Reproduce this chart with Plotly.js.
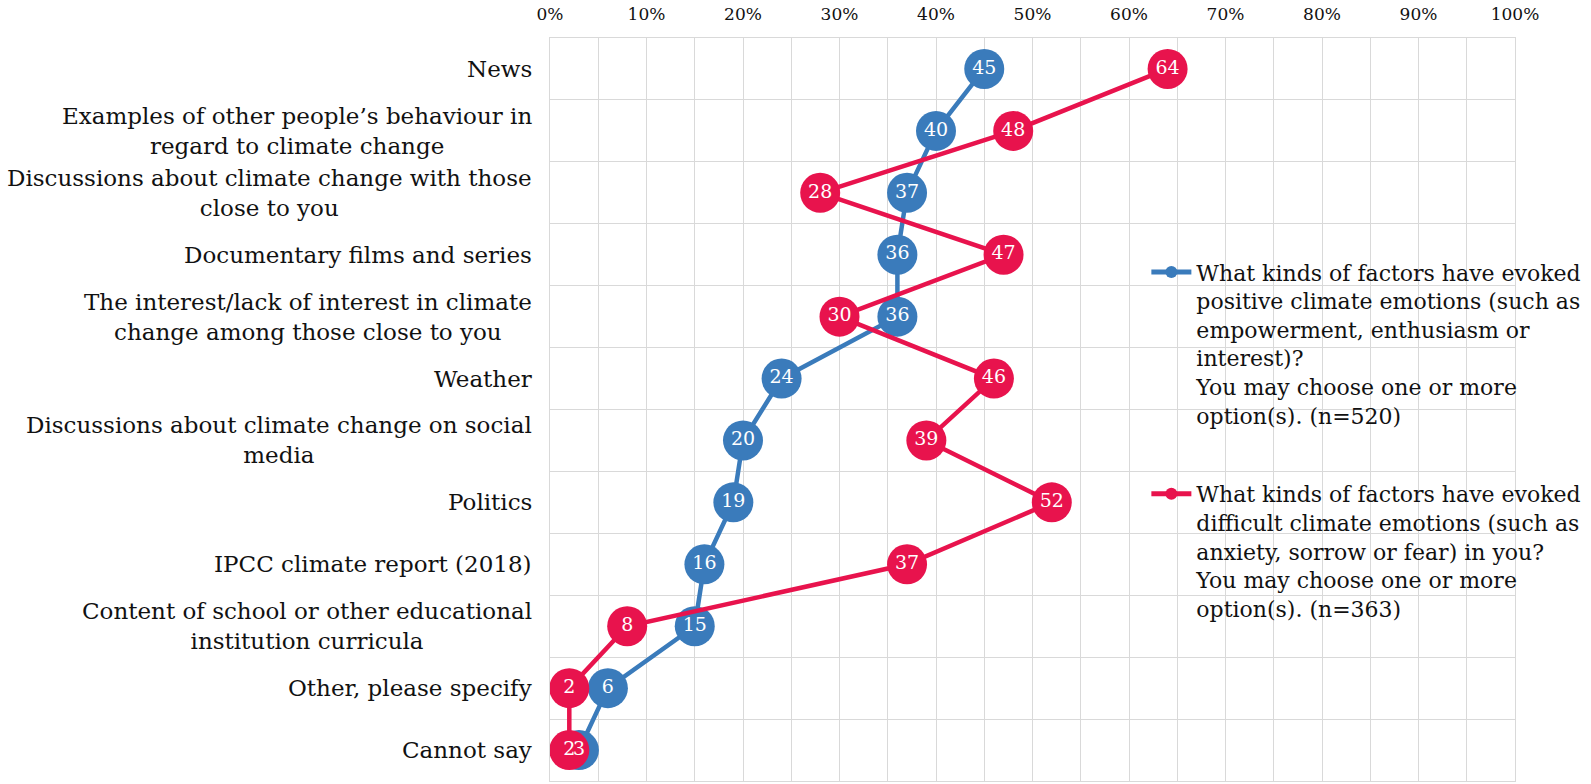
<!DOCTYPE html>
<html>
<head>
<meta charset="utf-8">
<script src="https://cdn.plot.ly/plotly-3.0.1.min.js"></script>
<style>
  html, body { margin: 0; padding: 0; background: #ffffff; }
  #chart { width: 1591px; height: 784px; }
</style>
</head>
<body>
<div id="chart"></div>
<script>
// Sources of climate emotions, share of respondents (%)
const categories = [
  "News",
  "Examples of other people’s behaviour in<br>regard to climate change",
  "Discussions about climate change with those<br>close to you",
  "Documentary films and series",
  "The interest/lack of interest in climate<br>change among those close to you",
  "Weather",
  "Discussions about climate change on social<br>media",
  "Politics",
  "IPCC climate report (2018)",
  "Content of school or other educational<br>institution curricula",
  "Other, please specify",
  "Cannot say"
];

const positiveValues = [45, 40, 37, 36, 36, 24, 20, 19, 16, 15, 6, 3];
const difficultValues = [64, 48, 28, 47, 30, 46, 39, 52, 37, 8, 2, 2];

const positiveName = "What kinds of factors have evoked<br>positive climate emotions (such as<br>empowerment, enthusiasm or<br>interest)?<br>You may choose one or more<br>option(s). (n=520)";
const difficultName = "What kinds of factors have evoked<br>difficult climate emotions (such as<br>anxiety, sorrow or fear) in you?<br>You may choose one or more<br>option(s). (n=363)";

const BLUE = "#3a7bbb";
const RED = "#e8134d";
const FONT = "DejaVu Serif, Liberation Serif, serif";
const GRID = "#d9d9d9";

function seriesTrace(values, name, color, legendId) {
  return {
    type: "scatter",
    mode: "lines+markers",
    name: name,
    x: values,
    y: categories,
    line: { color: color, width: 4.5 },
    marker: { color: color, size: 40, line: { width: 0 } },
    legend: legendId,
    hoverinfo: "skip"
  };
}

// value labels sit above every line and marker
function labelTrace(values) {
  return {
    type: "scatter",
    mode: "text",
    x: values,
    y: categories,
    text: values.map(v => String(v)),
    textposition: "middle center",
    textfont: { family: FONT, size: 19, color: "#ffffff" },
    showlegend: false,
    hoverinfo: "skip"
  };
}

const data = [
  seriesTrace(positiveValues, positiveName, BLUE, "legend"),
  seriesTrace(difficultValues, difficultName, RED, "legend2"),
  labelTrace(positiveValues),
  labelTrace(difficultValues)
];

// category names, centred line by line and right-anchored at the plot edge
const categoryLabels = categories.map(c => ({
  xref: "paper", yref: "y",
  x: 0, y: c,
  xanchor: "right", yanchor: "middle",
  xshift: -16,
  align: "center",
  showarrow: false,
  text: c,
  font: { family: FONT, size: 23, color: "#111111" }
}));

const legendBase = {
  xref: "paper", yref: "paper",
  xanchor: "left", yanchor: "top",
  bgcolor: "rgba(0,0,0,0)",
  borderwidth: 0,
  itemsizing: "constant",
  itemwidth: 40,
  valign: "top",
  font: { family: FONT, size: 22, color: "#111111" },
  itemclick: false,
  itemdoubleclick: false
};

const layout = {
  width: 1591,
  height: 784,
  margin: { l: 550, r: 76, t: 38, b: 3, pad: 0, autoexpand: false },
  paper_bgcolor: "#ffffff",
  plot_bgcolor: "#ffffff",
  showlegend: true,
  xaxis: {
    range: [0, 100],
    side: "top",
    dtick: 10,
    tick0: 0,
    ticksuffix: "%",
    ticks: "",
    ticklabelstandoff: 10,
    tickfont: { family: FONT, size: 17, color: "#111111" },
    showgrid: true,
    gridcolor: GRID,
    gridwidth: 1,
    zeroline: false,
    showline: true,
    linecolor: GRID,
    mirror: true,
    minor: { dtick: 5, tick0: 0, showgrid: true, gridcolor: GRID, gridwidth: 1, ticks: "" },
    fixedrange: true
  },
  yaxis: {
    type: "category",
    categoryorder: "array",
    categoryarray: categories,
    range: [11.5, -0.5],
    tickson: "boundaries",
    showticklabels: false,
    ticks: "",
    showgrid: true,
    gridcolor: GRID,
    gridwidth: 1,
    zeroline: false,
    showline: true,
    linecolor: GRID,
    mirror: true,
    fixedrange: true
  },
  legend: Object.assign({}, legendBase, { x: 0.618, y: 0.713 }),
  legend2: Object.assign({}, legendBase, { x: 0.618, y: 0.4145 }),
  annotations: categoryLabels
};

Plotly.newPlot("chart", data, layout, { staticPlot: true, displayModeBar: false });
</script>
</body>
</html>
